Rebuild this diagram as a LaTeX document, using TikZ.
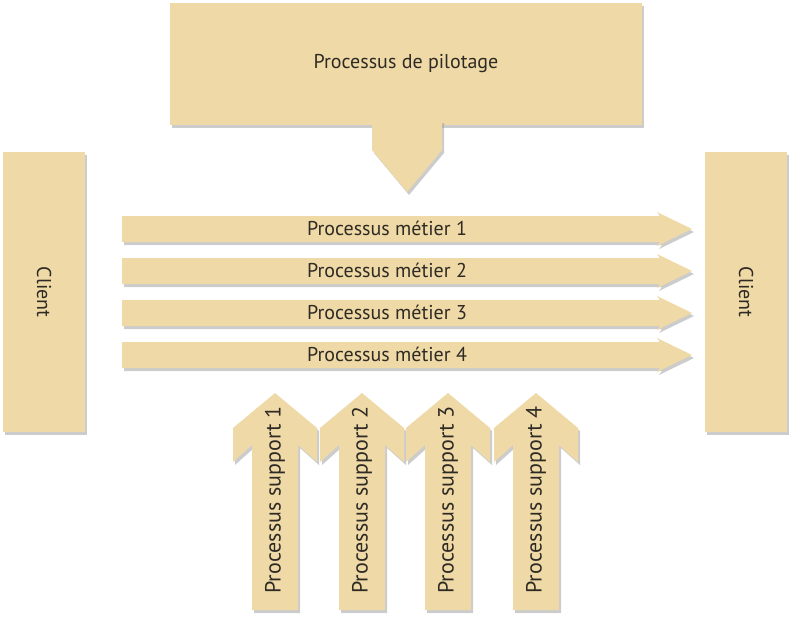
\documentclass[tikz,border=0pt]{standalone}
\usepackage{fontspec}
\setmainfont{PT Sans}
\usetikzlibrary{shadows}
\definecolor{tan}{HTML}{EFD9A6}
\definecolor{ink}{HTML}{2E2A24}
\begin{document}
\begin{tikzpicture}[x=1pt,y=-1pt,
  shp/.style={fill=tan,draw=none,drop shadow={shadow xshift=2pt,shadow yshift=-3pt,fill=black!40,opacity=0.5}},
  lbl/.style={text=ink,font=\fontsize{20}{24}\selectfont,inner sep=0pt}]
\useasboundingbox (0,0) rectangle (800,624);
% top box and down arrow
\path[shp] (170,3) rectangle (642,125);
\path[shp] (372,120) -- (442,120) -- (442,150) -- (407,192) -- (372,150) -- cycle;
\node[lbl] (pil) at (406,64) {Processus de pilotage};
% clients
\path[shp] (3,152) rectangle (85,432);
\path[shp] (705,152) rectangle (787,432);
\node[lbl,rotate=-90] (c1) at (44,292) {Client};
\node[lbl,rotate=-90] (c2) at (746,292) {Client};
% horizontal arrows
\foreach \y/\i in {229/1,271/2,313/3,355/4}{
  \path[shp] (122,\y-13) -- (660,\y-13) -- (657,\y-17) -- (692,\y) -- (657,\y+17) -- (660,\y+13) -- (122,\y+13) -- cycle;
  \node[lbl] (m\i) at (387,\y-1) {Processus métier \i};
}
% vertical arrows
\foreach \x/\i in {275/1,362/2,448/3,536/4}{
  \path[shp] (\x,393) -- (\x+42,428) -- (\x+42,462) -- (\x+23,445) -- (\x+23,610) -- (\x-23,610) -- (\x-23,445) -- (\x-42,462) -- (\x-42,428) -- cycle;
  \node[lbl,rotate=90,font=\fontsize{22}{26}\selectfont] (s\i) at (\x,500) {Processus support \i};
}
\end{tikzpicture}
\end{document}
